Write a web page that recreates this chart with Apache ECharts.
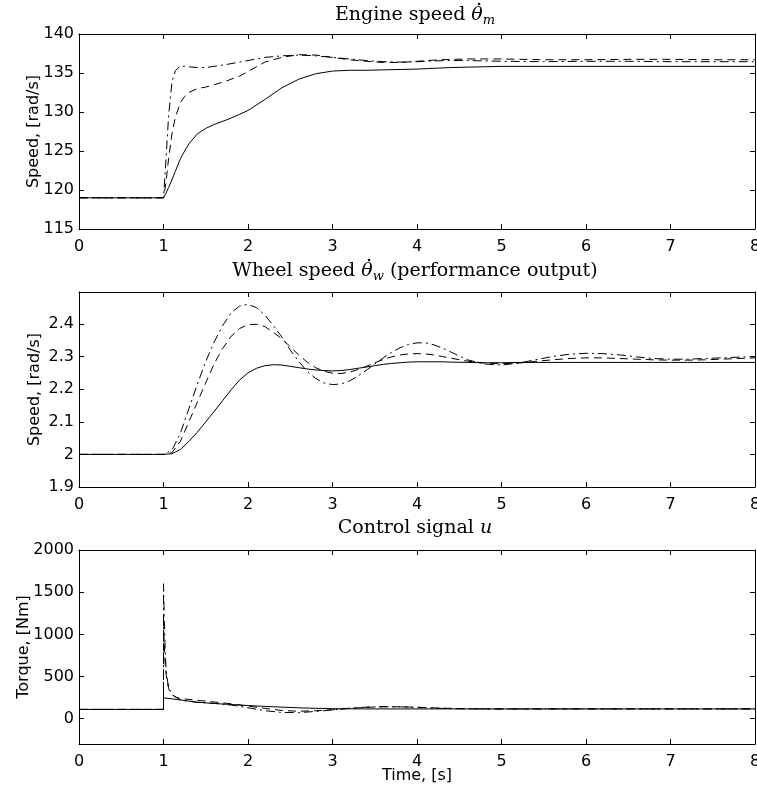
<!DOCTYPE html>
<html><head><meta charset="utf-8">
<script src="https://cdn.jsdelivr.net/npm/echarts@6/dist/echarts.min.js"></script>
<style>html,body{margin:0;padding:0;background:#fff}#c{width:757px;height:796px}</style>
</head><body><div id="c"></div>
<script>
// ---- tick values / labels ----
const timeTicks = [0, 1, 2, 3, 4, 5, 6, 7, 8];
const engineTicks = [115, 120, 125, 130, 135, 140];
const wheelTicks = [1.9, 2, 2.1, 2.2, 2.3, 2.4];
const wheelTickLabels = ['1.9', '2', '2.1', '2.2', '2.3', '2.4'];
const torqueTicks = [0, 500, 1000, 1500, 2000];

// ---- panel 1: engine speed ----
const tEngine = [0, 1, 1.03, 1.06, 1.1, 1.14, 1.2, 1.25, 1.3, 1.4, 1.5, 1.6, 1.75, 1.9, 2.0, 2.2, 2.4, 2.6, 2.8, 3.0, 3.2, 3.4, 3.6, 3.8, 4.0, 4.2, 4.4, 4.6, 4.8, 5.0, 5.5, 6.0, 6.5, 7.0, 7.5, 8.0];
const engineSolid = [119, 119, 119.6, 120.3, 121.3, 122.4, 124.0, 125.0, 125.9, 127.2, 127.9, 128.4, 129.0, 129.7, 130.2, 131.6, 133.1, 134.2, 134.9, 135.25, 135.35, 135.35, 135.4, 135.45, 135.5, 135.6, 135.7, 135.75, 135.8, 135.85, 135.85, 135.85, 135.85, 135.85, 135.85, 135.85];
const engineDashed = [119, 119, 121, 124, 127.2, 129.3, 131.2, 132.0, 132.5, 133.0, 133.2, 133.5, 134.0, 134.6, 135.2, 136.4, 137.0, 137.35, 137.3, 137.0, 136.7, 136.5, 136.35, 136.35, 136.5, 136.65, 136.75, 136.8, 136.8, 136.8, 136.7, 136.7, 136.75, 136.75, 136.7, 136.7];
const engineDashDot = [119, 119, 124, 129.5, 133.8, 135.3, 135.9, 135.85, 135.8, 135.7, 135.7, 135.85, 136.1, 136.4, 136.6, 137.0, 137.2, 137.3, 137.2, 137.0, 136.8, 136.6, 136.45, 136.4, 136.45, 136.55, 136.6, 136.6, 136.55, 136.5, 136.45, 136.5, 136.5, 136.45, 136.45, 136.45];

// ---- panel 2: wheel speed ----
const tWheel = [0, 1, 1.1, 1.2, 1.3, 1.4, 1.5, 1.6, 1.7, 1.8, 1.9, 2.0, 2.1, 2.2, 2.3, 2.4, 2.5, 2.6, 2.7, 2.8, 2.9, 3.0, 3.1, 3.2, 3.3, 3.4, 3.5, 3.6, 3.7, 3.8, 3.9, 4.0, 4.1, 4.2, 4.3, 4.4, 4.6, 4.8, 5.0, 5.2, 5.4, 5.6, 5.8, 6.0, 6.2, 6.4, 6.6, 6.8, 7.0, 7.2, 7.4, 7.6, 7.8, 8.0];
const wheelSolid = [2.0, 2.0, 2.002, 2.015, 2.04, 2.068, 2.1, 2.132, 2.165, 2.198, 2.228, 2.25, 2.264, 2.272, 2.275, 2.274, 2.27, 2.266, 2.262, 2.259, 2.257, 2.256, 2.257, 2.26, 2.264, 2.268, 2.272, 2.276, 2.279, 2.281, 2.283, 2.284, 2.284, 2.284, 2.284, 2.283, 2.282, 2.281, 2.281, 2.282, 2.282, 2.282, 2.282, 2.282, 2.282, 2.282, 2.282, 2.282, 2.282, 2.282, 2.282, 2.282, 2.282, 2.282];
const wheelDashed = [2.0, 2.0, 2.005, 2.04, 2.1, 2.16, 2.22, 2.278, 2.325, 2.362, 2.386, 2.398, 2.399, 2.392, 2.374, 2.355, 2.33, 2.305, 2.283, 2.266, 2.255, 2.249, 2.248, 2.252, 2.26, 2.27, 2.281, 2.291, 2.299, 2.305, 2.308, 2.309, 2.308, 2.305, 2.3, 2.295, 2.286, 2.28, 2.278, 2.28, 2.285, 2.29, 2.294, 2.296, 2.296, 2.294, 2.292, 2.29, 2.289, 2.289, 2.29, 2.292, 2.294, 2.296];
const wheelDashDot = [2.0, 2.0, 2.013, 2.065, 2.14, 2.215, 2.285, 2.345, 2.395, 2.434, 2.455, 2.46, 2.45, 2.427, 2.395, 2.36, 2.32, 2.285, 2.255, 2.233, 2.219, 2.214, 2.216, 2.225, 2.24, 2.258, 2.277, 2.296, 2.313, 2.327, 2.337, 2.342, 2.342, 2.336, 2.326, 2.314, 2.29, 2.277, 2.274, 2.28, 2.29, 2.3, 2.307, 2.31, 2.309, 2.305, 2.299, 2.294, 2.292, 2.292, 2.294, 2.296, 2.298, 2.3];

// ---- panel 3: control torque ----
const tTorqueSolid = [0, 1, 1, 1.2, 1.4, 1.6, 1.8, 2.0, 2.2, 2.4, 2.6, 2.8, 3.0, 3.2, 3.4, 3.6, 3.8, 4.0, 4.5, 5, 6, 7, 8];
const torqueSolid = [110, 110, 248, 222, 195, 180, 168, 156, 146, 137, 129, 123, 119, 117, 116, 116, 116, 116, 116, 116, 116, 116, 116];
const tTorqueDashed = [0, 1, 1, 1.01, 1.02, 1.04, 1.07, 1.1, 1.15, 1.2, 1.3, 1.4, 1.6, 1.8, 2.0, 2.2, 2.4, 2.6, 2.8, 3.0, 3.2, 3.4, 3.6, 3.8, 4.0, 4.3, 4.6, 5, 6, 7, 8];
const torqueDashed = [110, 110, 1150, 850, 640, 440, 330, 285, 255, 240, 228, 218, 198, 177, 150, 122, 98, 88, 94, 106, 122, 134, 141, 141, 136, 125, 118, 115, 116, 116, 116];
const tTorqueDashDot = [0, 1, 1, 1.01, 1.02, 1.03, 1.05, 1.08, 1.12, 1.18, 1.26, 1.4, 1.6, 1.8, 2.0, 2.2, 2.4, 2.6, 2.8, 3.0, 3.2, 3.4, 3.6, 3.8, 4.0, 4.3, 4.6, 5, 6, 7, 8];
const torqueDashDot = [110, 110, 1600, 1150, 820, 600, 430, 330, 270, 235, 210, 195, 182, 162, 130, 95, 74, 72, 86, 104, 124, 137, 143, 141, 134, 122, 117, 115, 116, 116, 116];

// ---- styling ----
const BLACK = '#000';
const dashPattern = [8, 5];
const dashDotPattern = [9, 4, 2, 4];
const labelFont = { fontFamily: 'DejaVu Sans', fontSize: 16, color: BLACK };
const grids = [
  { left: 79, right: 2, top: 34, height: 195, outerBoundsMode: 'none', containLabel: false },
  { left: 79, right: 2, top: 292, height: 195, outerBoundsMode: 'none', containLabel: false },
  { left: 79, right: 2, top: 550, height: 194, outerBoundsMode: 'none', containLabel: false }
];

const tickStyle = { show: true, inside: true, length: 5, lineStyle: { color: BLACK, width: 1 } };
const lineAx = { show: true, onZero: false, lineStyle: { color: BLACK, width: 1 } };

const xAxes = [], yAxes = [];
const yCfg = [
  { min: 115, max: 140, ticks: engineTicks, labels: engineTicks.map(String), name: 'Speed, [rad/s]', gap: 37 },
  { min: 1.9, max: 2.498, ticks: wheelTicks, labels: wheelTickLabels, name: 'Speed, [rad/s]', gap: 36 },
  { min: -300, max: 2000, ticks: torqueTicks, labels: torqueTicks.map(String), name: 'Torque, [Nm]', gap: 47 }
];
for (let g = 0; g < 3; g++) {
  xAxes.push({
    type: 'value', gridIndex: g, position: 'bottom', min: 0, max: 8, interval: 1,
    axisLine: lineAx, axisTick: tickStyle, splitLine: { show: false },
    axisLabel: Object.assign({ margin: 10, customValues: timeTicks }, labelFont),
    name: g === 2 ? 'Time, [s]' : '', nameLocation: 'middle', nameGap: 24, nameMoveOverlap: false,
    nameTextStyle: labelFont
  });
  xAxes.push({
    type: 'value', gridIndex: g, position: 'top', min: 0, max: 8, interval: 1,
    axisLine: lineAx, axisTick: tickStyle, splitLine: { show: false },
    axisLabel: { show: false }
  });
  const c = yCfg[g];
  const fmt = (v) => {
    let best = 0;
    c.ticks.forEach((tv, i) => { if (Math.abs(tv - v) < Math.abs(c.ticks[best] - v)) best = i; });
    return c.labels[best];
  };
  yAxes.push({
    type: 'value', gridIndex: g, position: 'left', min: c.min, max: c.max,
    axisLine: lineAx,
    axisTick: Object.assign({ customValues: c.ticks }, tickStyle),
    splitLine: { show: false },
    axisLabel: Object.assign({ margin: 5, customValues: c.ticks, formatter: fmt }, labelFont),
    name: c.name, nameLocation: 'middle', nameGap: c.gap, nameRotate: 90, nameMoveOverlap: false,
    nameTextStyle: labelFont
  });
  yAxes.push({
    type: 'value', gridIndex: g, position: 'right', min: c.min, max: c.max,
    axisLine: lineAx,
    axisTick: Object.assign({ customValues: c.ticks }, tickStyle),
    splitLine: { show: false },
    axisLabel: { show: false }
  });
}

function mkLine(g, xs, ys, dash) {
  return {
    type: 'line', xAxisIndex: 2 * g, yAxisIndex: 2 * g,
    data: xs.map((t, i) => [t, ys[i]]),
    symbol: 'none', showSymbol: false, silent: true, animation: false,
    lineStyle: { color: BLACK, width: 1, type: dash },
    z: 2
  };
}

const series = [
  mkLine(0, tEngine, engineSolid, 'solid'),
  mkLine(0, tEngine, engineDashed, dashPattern),
  mkLine(0, tEngine, engineDashDot, dashDotPattern),
  mkLine(1, tWheel, wheelSolid, 'solid'),
  mkLine(1, tWheel, wheelDashed, dashPattern),
  mkLine(1, tWheel, wheelDashDot, dashDotPattern),
  mkLine(2, tTorqueSolid, torqueSolid, 'solid'),
  mkLine(2, tTorqueDashed, torqueDashed, dashPattern),
  mkLine(2, tTorqueDashDot, torqueDashDot, dashDotPattern)
];

// ---- titles (rich text) ----
const serif = 'DejaVu Serif';
const TITLE_SIZE = 19, SUB_SIZE = 13, TITLE_CENTER = 415;
const rich = {
  n: { fontFamily: serif, fontSize: TITLE_SIZE, color: BLACK },
  i: { fontFamily: serif, fontStyle: 'italic', fontSize: TITLE_SIZE, color: BLACK },
  s: { fontFamily: serif, fontStyle: 'italic', fontSize: SUB_SIZE, color: BLACK, padding: [11, 0, 0, 0] }
};
// each title: [prefix, italic symbol, subscript, suffix]
const titleParts = [
  ['Engine speed ', '\u03B8', 'm', ''],
  ['Wheel speed ', '\u03B8', 'w', ' (performance output)'],
  ['Control signal ', 'u', '', '']
];
const titleDot = [true, true, false];
const titleTops = [3, 259, 519];
const titleCapTop = [7.5, 263.5, 522];

const title = titleParts.map((p, k) => {
  let txt = '{n|' + p[0] + '}{i|' + p[1] + '}';
  if (p[2]) txt += '{s|' + p[2] + '}';
  if (p[3]) txt += '{n|' + p[3] + '}';
  return {
    text: txt, left: TITLE_CENTER, top: titleTops[k], textAlign: 'center', padding: 0,
    textStyle: { rich: rich, fontFamily: serif, fontSize: TITLE_SIZE, color: BLACK, fontWeight: 'normal' }
  };
});

// dot accents over theta, placed from measured text widths
const mctx = document.createElement('canvas').getContext('2d');
function tw(t, italic, size) {
  mctx.font = (italic ? 'italic ' : '') + size + 'px "' + serif + '"';
  return mctx.measureText(t).width;
}
const graphic = [];
titleParts.forEach((p, k) => {
  if (!titleDot[k]) return;
  const total = tw(p[0], false, TITLE_SIZE) + tw(p[1], true, TITLE_SIZE) + tw(p[2], true, SUB_SIZE) + tw(p[3], false, TITLE_SIZE);
  const start = TITLE_CENTER - total / 2;
  const cx = start + tw(p[0], false, TITLE_SIZE) + tw(p[1], true, TITLE_SIZE) / 2 + 2;
  graphic.push({ type: 'circle', shape: { cx: cx, cy: titleCapTop[k] - 3.5, r: 1.3 }, style: { fill: BLACK }, silent: true });
});

const chart = echarts.init(document.getElementById('c'), null, { renderer: 'canvas' });
chart.setOption({
  backgroundColor: '#fff',
  animation: false,
  title: title,
  graphic: graphic,
  grid: grids,
  xAxis: xAxes,
  yAxis: yAxes,
  series: series
});
</script>
</body></html>
